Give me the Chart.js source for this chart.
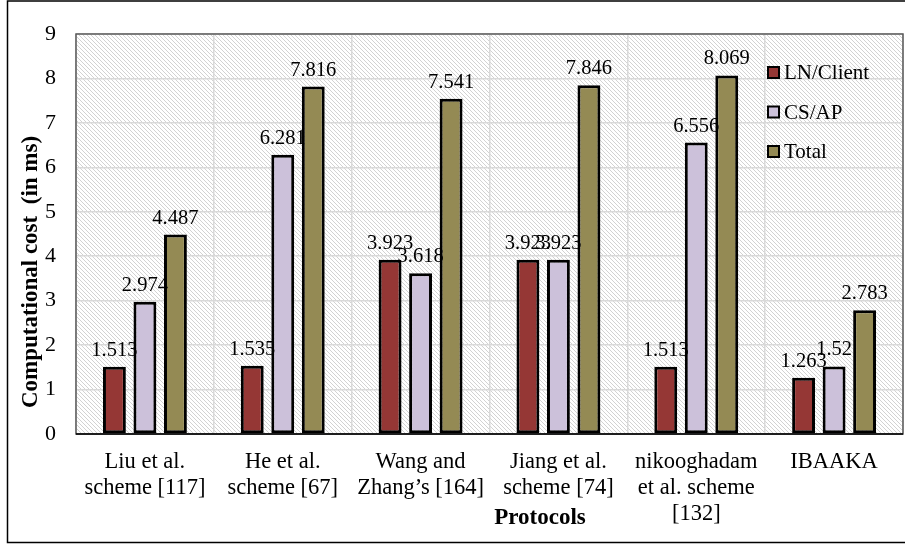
<!DOCTYPE html>
<html>
<head>
<meta charset="utf-8">
<script src="https://cdn.jsdelivr.net/npm/chart.js@4.4.0/dist/chart.umd.min.js"></script>
<style>
  body { margin: 0; background: #fff; }
  #wrap { position: relative; width: 905px; height: 545px; }
</style>
</head>
<body>
<div id="wrap"><canvas id="costChart" width="905" height="545"></canvas></div>
<script>
//DATA
const protocols = [
    ['Liu et al.', 'scheme [117]'],
    ['He et al.', 'scheme [67]'],
    ['Wang and', 'Zhang\u2019s [164]'],
    ['Jiang et al.', 'scheme [74]'],
    ['nikooghadam', 'et al. scheme', '[132]'],
    ['IBAAKA']
];
const lnClient = [1.513, 1.535, 3.923, 3.923, 1.513, 1.263];
const csAp = [2.974, 6.281, 3.618, 3.923, 6.556, 1.52];
const total = [4.487, 7.816, 7.541, 7.846, 8.069, 2.783];
const seriesNames = ['LN/Client', 'CS/AP', 'Total'];
const seriesColors = ['rgb(149, 55, 53)', 'rgb(204, 193, 218)', 'rgb(148, 138, 84)'];

const serif = "'Liberation Serif', 'Times New Roman', serif";

//PLUGINS
function hatchPattern(ctx) {
    const c = document.createElement('canvas');
    c.width = 8; c.height = 8;
    const p = c.getContext('2d');
    p.fillStyle = '#fff';
    p.fillRect(0, 0, 8, 8);
    p.strokeStyle = '#d2d2d2';
    p.lineWidth = 1;
    for (let i = -8; i <= 8; i += 4) {
        p.beginPath();
        p.moveTo(i, 0);
        p.lineTo(i + 8, 8);
        p.stroke();
    }
    return ctx.createPattern(c, 'repeat');
}

const backdrop = {
    id: 'backdrop',
    beforeDraw(chart) {
        const {ctx, chartArea: a} = chart;
        ctx.save();
        ctx.fillStyle = hatchPattern(ctx);
        ctx.fillRect(a.left, a.top, a.right - a.left, a.bottom - a.top);
        // outer frame
        ctx.strokeStyle = '#000';
        ctx.lineWidth = 1.5;
        ctx.strokeRect(7.5, 1, 910, 541.5);
        ctx.restore();
    },
    beforeDatasetsDraw(chart) {
        const {ctx, chartArea: a} = chart;
        ctx.save();
        ctx.strokeStyle = '#595959';
        ctx.lineWidth = 1.5;
        ctx.strokeRect(a.left, a.top, a.right - a.left, a.bottom - a.top);
        ctx.strokeStyle = '#000';
        ctx.beginPath();
        ctx.moveTo(a.left, a.bottom);
        ctx.lineTo(a.right, a.bottom);
        ctx.stroke();
        ctx.restore();
    }
};

const valueLabels = {
    id: 'valueLabels',
    afterDatasetsDraw(chart) {
        const ctx = chart.ctx;
        ctx.save();
        ctx.font = '20.5px ' + serif;
        ctx.fillStyle = '#000';
        ctx.textAlign = 'center';
        ctx.textBaseline = 'alphabetic';
        chart.data.datasets.forEach((ds, i) => {
            chart.getDatasetMeta(i).data.forEach((bar, j) => {
                ctx.fillText(String(ds.data[j]), bar.x, bar.y - 11);
            });
        });
        // legend inside plot
        ctx.font = '21px ' + serif;
        chart.data.datasets.forEach((ds, i) => {
            const y = 72.5 + i * 39.5;
            ctx.fillStyle = ds.backgroundColor;
            ctx.fillRect(768, y - 5.5, 11, 11);
            ctx.strokeStyle = '#000';
            ctx.lineWidth = 2;
            ctx.strokeRect(768, y - 5.5, 11, 11);
            ctx.fillStyle = '#000';
            ctx.textAlign = 'left';
            ctx.textBaseline = 'middle';
            ctx.fillText(ds.label, 784, y + 1);
        });
        // axis titles
        ctx.font = 'bold 23px ' + serif;
        ctx.textAlign = 'center';
        ctx.textBaseline = 'middle';
        ctx.fillText('Protocols', 540, 518);
        ctx.translate(31, 272);
        ctx.rotate(-Math.PI / 2);
        ctx.fillText('Computational cost  (in ms)', 0, 0);
        ctx.restore();
    }
};

//CONFIG
const costData = {
    labels: protocols,
    datasets: [lnClient, csAp, total].map((values, i) => ({
        label: seriesNames[i],
        data: values,
        backgroundColor: seriesColors[i],
        borderColor: '#000',
        borderWidth: 3,
        borderSkipped: false,
        categoryPercentage: 0.664,
        barPercentage: 0.75
    }))
};

const costConfig = {
    type: 'bar',
    data: costData,
    options: {
        responsive: false,
        animation: false,
        layout: { padding: { top: 34, right: 2, left: 0, bottom: 0 } },
        plugins: {
            legend: { display: false },
            tooltip: { enabled: false }
        },
        scales: {
            x: {
                afterFit(scale) { scale.height = 111; },
                grid: { offset: true, color: '#d9d9d9', lineWidth: 1.5, drawTicks: false },
                border: { display: false },
                ticks: {
                    color: '#000',
                    font: { family: serif, size: 22.5, lineHeight: 1.16 },
                    padding: 15,
                    maxRotation: 0,
                    autoSkip: false
                }
            },
            y: {
                min: 0,
                max: 9,
                afterFit(scale) { scale.width = 76; },
                grid: { color: '#d9d9d9', lineWidth: 1.5, drawTicks: false },
                border: { display: false },
                ticks: {
                    stepSize: 1,
                    color: '#000',
                    font: { family: serif, size: 22 },
                    padding: 20
                }
            }
        }
    },
    plugins: [backdrop, valueLabels]
};

//RENDER
const costChart = new Chart(
    document.getElementById('costChart'),
    costConfig
);
</script>
</body>
</html>
